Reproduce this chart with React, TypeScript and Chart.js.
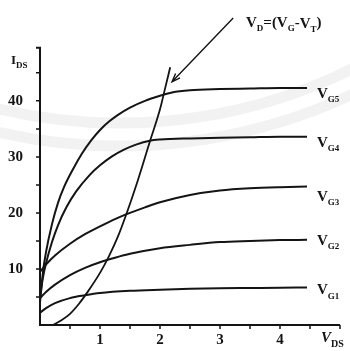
import { useEffect, useRef } from "react";
import { Chart, registerables } from "chart.js";

Chart.register(...registerables);

// Drain voltage V_DS (x) and drain current I_DS (y) per gate voltage curve
const vg1X = [0, 0.1, 0.25, 0.5, 0.75, 1, 1.5, 2, 2.5, 3, 3.5, 4, 4.45];
const vg1Y = [2.2, 3.0, 3.9, 4.8, 5.3, 5.7, 6.1, 6.3, 6.45, 6.55, 6.6, 6.65, 6.7];

const vg2X = [0, 0.1, 0.25, 0.5, 0.75, 1, 1.25, 1.5, 2, 2.5, 3, 3.5, 4, 4.45];
const vg2Y = [4.8, 5.9, 7.2, 8.9, 10.2, 11.2, 12.0, 12.7, 13.7, 14.3, 14.8, 15.0, 15.15, 15.2];

const vg3X = [0, 0.1, 0.25, 0.5, 0.75, 1, 1.25, 1.5, 1.75, 2, 2.5, 3, 3.5, 4, 4.45];
const vg3Y = [9.5, 10.8, 12.4, 14.5, 16.2, 17.6, 18.9, 20.0, 21.0, 21.9, 23.2, 24.0, 24.4, 24.6, 24.7];

const vg4X = [0, 0.05, 0.1, 0.2, 0.3, 0.44, 0.6, 0.83, 1, 1.2, 1.4, 1.6, 1.83, 2, 2.5, 3, 3.5, 4, 4.45];
const vg4Y = [5, 8.5, 11, 14.8, 17.8, 21.0, 23.8, 26.8, 28.5, 30.1, 31.3, 32.2, 32.9, 33.1, 33.3, 33.4, 33.5, 33.6, 33.6];

const vg5X = [0, 0.05, 0.1, 0.2, 0.3, 0.4, 0.55, 0.7, 0.85, 1, 1.15, 1.3, 1.5, 1.75, 2, 2.2, 2.5, 3, 3.5, 4, 4.45];
const vg5Y = [4, 9.5, 13, 18, 21.8, 24.6, 27.8, 30.6, 32.9, 34.8, 36.3, 37.5, 38.8, 40.0, 40.9, 41.5, 41.9, 42.1, 42.2, 42.3, 42.3];

// Saturation locus V_D = (V_G - V_T)
const locusX = [0.22, 0.35, 0.5, 0.65, 0.8, 1.0, 1.15, 1.3, 1.44, 1.6, 1.83, 2.0, 2.08, 2.17];
const locusY = [0, 0.8, 2.0, 3.8, 6, 9.3, 12.3, 15.8, 19.8, 24.8, 32.7, 38.5, 42, 46];

const curveLabels = ["G1", "G2", "G3", "G4", "G5"];
const xTickValues = [1, 2, 3, 4];
const yTickValues = [10, 20, 30, 40];
const arrowFrom = { x: 3.22, y: 54.8 };
const arrowTo = { x: 2.2, y: 43.4 };

const toPts = (xs: number[], ys: number[]) => xs.map((v, i) => ({ x: v, y: ys[i] }));

const INK = "#141414";
const SERIF = "'Liberation Serif', 'DejaVu Serif', serif";

const watermark = {
  id: "watermark",
  beforeDatasetsDraw(chart: any) {
    const { ctx } = chart;
    ctx.save();
    ctx.strokeStyle = "rgba(0,0,0,0.05)";
    ctx.lineWidth = 11;
    [523, 546].forEach((r) => {
      ctx.beginPath();
      ctx.arc(120, -400, r, Math.PI * 0.2, Math.PI * 0.8);
      ctx.stroke();
    });
    ctx.restore();
  },
};

const overlay = {
  id: "overlay",
  afterDraw(chart: any) {
    const { ctx } = chart;
    const xs = chart.scales.x;
    const ys = chart.scales.y;
    const px = (v: number) => xs.getPixelForValue(v);
    const py = (v: number) => ys.getPixelForValue(v);
    ctx.save();
    ctx.strokeStyle = INK;
    ctx.fillStyle = INK;
    ctx.lineCap = "butt";

    // axes
    ctx.lineWidth = 2;
    ctx.beginPath();
    ctx.moveTo(px(0), py(0));
    ctx.lineTo(px(0), py(49.5));
    ctx.lineTo(px(0) - 4, py(49.5));
    ctx.moveTo(px(0) - 1, py(0));
    ctx.lineTo(px(5), py(0));
    ctx.stroke();
    ctx.lineWidth = 1.5;
    ctx.beginPath();
    for (let v = 5; v <= 45; v += 5) {
      ctx.moveTo(px(0), py(v));
      ctx.lineTo(px(0) - 4, py(v));
    }
    for (let v = 0.5; v <= 5.001; v += 0.5) {
      ctx.moveTo(px(v), py(0));
      ctx.lineTo(px(v), py(0) + 4);
    }
    ctx.stroke();

    // arrow
    ctx.lineWidth = 1.4;
    const ax = px(arrowFrom.x), ay = py(arrowFrom.y);
    const bx = px(arrowTo.x), by = py(arrowTo.y);
    ctx.beginPath();
    ctx.moveTo(ax, ay);
    ctx.lineTo(bx, by);
    const ang = Math.atan2(ay - by, ax - bx);
    const hl = 9;
    ctx.moveTo(bx + hl * Math.cos(ang + 0.35), by + hl * Math.sin(ang + 0.35));
    ctx.lineTo(bx, by);
    ctx.lineTo(bx + hl * Math.cos(ang - 0.35), by + hl * Math.sin(ang - 0.35));
    ctx.stroke();

    const sub = (main: string, s: string, x: number, y: number, mainSize: number, subSize: number, italic = false) => {
      ctx.font = `${italic ? "italic " : ""}bold ${mainSize}px ${SERIF}`;
      ctx.textBaseline = "alphabetic";
      ctx.textAlign = "left";
      ctx.fillText(main, x, y);
      const w = ctx.measureText(main).width;
      ctx.font = `bold ${subSize}px ${SERIF}`;
      ctx.fillText(s, x + w, y + subSize * 0.45);
      return x + w + ctx.measureText(s).width;
    };

    // curve labels
    const ends = [vg1Y, vg2Y, vg3Y, vg4Y, vg5Y].map((a) => a[a.length - 1]);
    const offs = [7, 5, 14, 10, 10];
    curveLabels.forEach((lab, i) => {
      sub("V", lab, 317, py(ends[i]) + offs[i], 15, 9);
    });

    // locus formula label
    let cx = sub("V", "D", 246, 27, 15, 9);
    ctx.font = `bold 15px ${SERIF}`;
    ctx.fillText("=(", cx, 27);
    cx += ctx.measureText("=(").width;
    cx = sub("V", "G", cx, 27, 15, 9);
    ctx.font = `bold 15px ${SERIF}`;
    ctx.fillText("-", cx, 27);
    cx += ctx.measureText("-").width;
    cx = sub("V", "T", cx, 28, 15, 9);
    ctx.font = `bold 15px ${SERIF}`;
    ctx.fillText(")", cx, 27);

    // axis titles
    sub("I", "DS", 11, 64, 13, 9);
    sub("V", "DS", 321, 342, 15, 10, true);

    ctx.restore();
  },
};

export default function App() {
  const ref = useRef<HTMLCanvasElement>(null);
  useEffect(() => {
    if (!ref.current) return;
    const mk = (xs: number[], ys: number[]) => ({
      data: toPts(xs, ys),
      borderColor: INK,
      borderWidth: 2,
      pointRadius: 0,
      fill: false,
      showLine: true,
      cubicInterpolationMode: "monotone" as const,
    });
    const chart = new Chart(ref.current, {
      type: "scatter",
      data: {
        datasets: [
          mk(vg1X, vg1Y),
          mk(vg2X, vg2Y),
          mk(vg3X, vg3Y),
          mk(vg4X, vg4Y),
          mk(vg5X, vg5Y),
          { ...mk(locusX, locusY), borderWidth: 1.8 },
        ],
      },
      options: {
        animation: false,
        responsive: true,
        maintainAspectRatio: false,
        layout: { padding: { top: 0, right: 10, left: 0, bottom: 0 } },
        plugins: { legend: { display: false }, tooltip: { enabled: false } },
        scales: {
          x: {
            type: "linear",
            min: 0,
            max: 5,
            grid: { display: false, drawTicks: false },
            border: { display: false },
            afterBuildTicks: (s: any) => {
              s.ticks = xTickValues.map((v) => ({ value: v }));
            },
            afterFit: (s: any) => {
              s.height = 26;
              s.paddingLeft = 0;
              s.paddingRight = 0;
            },
            ticks: {
              padding: 6,
              color: INK,
              font: { family: SERIF, size: 15, weight: "bold" },
              maxRotation: 0,
            },
          },
          y: {
            type: "linear",
            min: 0,
            max: 58,
            grid: { display: false, drawTicks: false },
            border: { display: false },
            afterBuildTicks: (s: any) => {
              s.ticks = yTickValues.map((v) => ({ value: v }));
            },
            afterFit: (s: any) => {
              s.width = 40;
              s.paddingTop = 0;
              s.paddingBottom = 0;
            },
            ticks: {
              padding: 17,
              color: INK,
              font: { family: SERIF, size: 15, weight: "bold" },
            },
          },
        },
      },
      plugins: [watermark, overlay],
    });
    return () => chart.destroy();
  }, []);
  return (
    <div style={{ position: "absolute", left: 0, top: 0, width: 350, height: 351, background: "#fff" }}>
      <canvas ref={ref} />
    </div>
  );
}
